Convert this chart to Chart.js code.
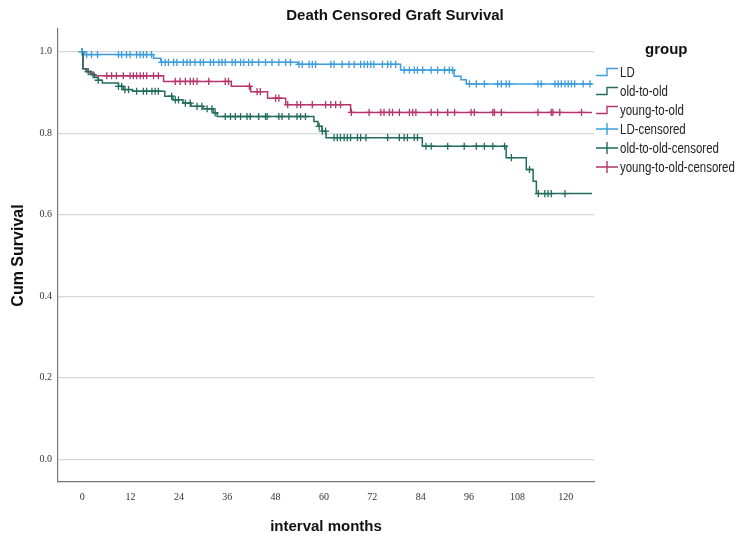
<!DOCTYPE html>
<html>
<head>
<meta charset="utf-8">
<script src="https://cdn.jsdelivr.net/npm/chart.js@4.4.1/dist/chart.umd.min.js"></script>
<style>
  html, body { margin: 0; padding: 0; background: #fff; }
  #wrap { position: relative; width: 744px; height: 541px; }
  #legend {
    position: absolute; left: 595px; top: 38px; width: 149px;
    font-family: "Liberation Sans", Arial, sans-serif;
    font-size: 14px; color: #222;
  }
  #legend .head {
    font-weight: bold; font-size: 15px; height: 25px; line-height: 22px;
    padding-left: 50px; color: #111;
  }
  #legend .row { height: 19px; line-height: 19px; white-space: nowrap; }
  #legend svg { vertical-align: middle; margin-right: 1px; margin-top: -3px; }
  #legend .txt { display: inline-block; transform: scaleX(0.82); transform-origin: left center; }
</style>
</head>
<body>
<div id="wrap">
  <canvas id="km" width="744" height="541"></canvas>
  <div id="legend"></div>
</div>
<script>
document.addEventListener("DOMContentLoaded", function () {
  const groups = ["LD", "old-to-old", "young-to-old"];
  const colors = ["#3d9ddb", "#216c5e", "#b4346b"];
  const xTicks = [0, 12, 24, 36, 48, 60, 72, 84, 96, 108, 120];
  const yTicks = [0, 0.2, 0.4, 0.6, 0.8, 1.0];

  // step curves: time of each event and the survival after it
  const ldTime = [0, 0.5, 17.7, 19.5, 53.5, 79, 92.3, 94, 95.3, 126.5];
  const ldSurv = [1.0, 0.993, 0.984, 0.974, 0.969, 0.955, 0.94, 0.931, 0.921, 0.921];
  const youngTime = [0, 0.2, 1.2, 2.2, 3, 20.2, 37, 41.8, 46, 50.5, 66.6, 126.5];
  const youngSurv = [1.0, 0.958, 0.952, 0.947, 0.941, 0.927, 0.915, 0.902, 0.886, 0.87, 0.851, 0.851];
  const oldTime = [0, 0.2, 1, 2, 3, 4, 5, 9, 10.2, 12.5, 20.5, 22.5, 25, 27, 30, 32.5, 33.5,
    57.5, 58.5, 59.5, 60.5, 84.4, 105.2, 110.2, 111.9, 112.7, 126.5];
  const oldSurv = [1.0, 0.958, 0.951, 0.944, 0.937, 0.93, 0.923, 0.915, 0.907, 0.903, 0.891, 0.882,
    0.874, 0.866, 0.86, 0.85, 0.841, 0.829, 0.817, 0.805, 0.789, 0.768, 0.74, 0.711, 0.682, 0.652, 0.652];

  // censored times
  const ldCensor = [0, 1.1, 2.3, 3.8, 9, 9.8, 11, 11.9, 13.5, 14.4, 15.2, 16, 17.2, 19.7, 20.6, 21.4,
    22.7, 23.5, 25.1, 26, 26.8, 28, 29.3, 30.1, 31.8, 32.6, 33.9, 34.7, 35.5, 37.2, 38, 39.3, 40.1,
    41.3, 42.2, 43.8, 45.5, 47.1, 48.8, 50.5, 51.7, 53.8, 54.6, 56.3, 57.1, 57.9, 61.7, 62.5, 64.5,
    66.2, 67.5, 69.1, 70, 70.8, 71.6, 72.4, 74.5, 75.8, 76.6, 77.8, 79.9, 81.2, 82.4, 83.2, 84.5,
    86.6, 88.2, 89.9, 91.1, 91.9, 96.1, 97.8, 99.8, 103.1, 104, 105.2, 106, 113.1, 113.9, 117.3,
    118.1, 118.9, 119.8, 120.6, 121.4, 122.2, 124.3, 126];
  const oldCensor = [0, 1.5, 2.7, 4, 9, 9.8, 10.6, 11.5, 13.5, 15.2, 16, 17.3, 18.1, 18.9, 22.2,
    23.1, 23.9, 25.6, 26.8, 28.5, 29.7, 31, 32.2, 33, 35.5, 36.8, 38, 39.3, 40.9, 41.7, 43.8, 45.5,
    45.9, 48.8, 49.6, 51.3, 53.3, 54.2, 55.4, 58.8, 59.6, 60.4, 62.5, 63.3, 64.1, 65, 65.8, 66.6,
    68.3, 69.1, 70.4, 75.8, 78.7, 79.9, 80.7, 82.4, 83.2, 85.3, 86.6, 90.7, 94.8, 97.8, 99.8, 101.9,
    104.8, 106.5, 111, 113.2, 114.8, 115.6, 116.4, 119.8];
  const youngCensor = [6.1, 7.3, 8.5, 10.2, 11.9, 12.7, 13.5, 14.4, 15.2, 16, 17.7, 18.9, 23.1, 24.3,
    25.6, 26.8, 27.6, 28.5, 31.4, 35.5, 36.3, 41.5, 43.4, 44.2, 48, 48.8, 51, 53.3, 54.2, 57.1, 60.4,
    61.7, 62.9, 64.1, 66.8, 71.2, 74.1, 74.9, 76.2, 77, 78.7, 81.2, 82, 82.8, 86.6, 88.2, 90.7, 92.4,
    96.5, 97.3, 101.9, 102.3, 104, 113.1, 116.4, 116.8, 118.5, 123.9];

  function curve(times, surv) {
    return times.map((t, i) => ({ x: t, y: surv[i] }));
  }
  function survAt(times, surv, t) {
    let s = surv[0];
    for (let i = 0; i < times.length; i++) if (times[i] <= t) s = surv[i];
    return s;
  }
  function marks(cens, times, surv) {
    return cens.map((t) => ({ x: t, y: survAt(times, surv, t) }));
  }

  const curves = [
    [ldTime, ldSurv, ldCensor],
    [oldTime, oldSurv, oldCensor],
    [youngTime, youngSurv, youngCensor],
  ];

  const lineSets = curves.map((c, i) => ({
    type: "line",
    label: groups[i],
    data: curve(c[0], c[1]),
    borderColor: colors[i],
    borderWidth: 1.5,
    stepped: true,
    pointRadius: 0,
    fill: false,
  }));
  const censorSets = curves.map((c, i) => ({
    type: "scatter",
    label: groups[i] + "-censored",
    data: marks(c[2], c[0], c[1]),
    borderColor: colors[i],
    backgroundColor: colors[i],
    pointStyle: "cross",
    pointRadius: 3.6,
    borderWidth: 1.3,
  }));

  // centre the title over plot + legend, as the original does
  const titleShift = {
    id: "titleShift",
    afterLayout(chart) {
      if (chart.titleBlock) {
        chart.titleBlock.left = 46;
        chart.titleBlock.right = 744;
      }
    },
  };

  const chart = new Chart(document.getElementById("km"), {
    data: { datasets: lineSets.concat(censorSets) },
    plugins: [titleShift],
    options: {
      responsive: false,
      animation: false,
      layout: { padding: { right: 150 } },
      plugins: {
        legend: { display: false },
        tooltip: { enabled: false },
        title: {
          display: true,
          text: "Death Censored Graft Survival",
          color: "#111",
          font: { family: "Liberation Sans", size: 15, weight: "bold" },
          padding: { top: 7, bottom: 4 },
        },
      },
      scales: {
        x: {
          type: "linear",
          min: -6,
          max: 127,
          afterBuildTicks: (s) => { s.ticks = xTicks.map((v) => ({ value: v })); },
          afterFit: (s) => { s.height = 59; },
          grid: { display: false, drawTicks: false },
          border: { display: true, color: "#777", width: 1.2 },
          ticks: {
            padding: 9,
            color: "#333",
            maxRotation: 0,
            font: { family: "Liberation Serif", size: 10 },
          },
          title: {
            display: true,
            text: "interval months",
            color: "#111",
            font: { family: "Liberation Sans", size: 15, weight: "bold" },
            padding: { top: 0, bottom: 5 },
          },
        },
        y: {
          min: -0.0557,
          max: 1.0557,
          afterBuildTicks: (s) => { s.ticks = yTicks.map((v) => ({ value: v })); },
          afterFit: (s) => { s.width = 58; },
          grid: { color: "#d6d6d6", lineWidth: 1.3, drawTicks: false },
          border: { display: true, color: "#777", width: 1.2 },
          ticks: {
            padding: 6,
            color: "#333",
            font: { family: "Liberation Serif", size: 10 },
            callback: (v) => v.toFixed(1),
          },
          title: {
            display: true,
            text: "Cum Survival",
            color: "#111",
            font: { family: "Liberation Sans", size: 16, weight: "bold" },
            padding: { top: 9, bottom: 0 },
          },
        },
      },
    },
  });

  // legend built from the datasets
  const legend = document.getElementById("legend");
  legend.innerHTML = '<div class="head">group</div>';
  chart.data.datasets.forEach((ds) => {
    const c = ds.borderColor;
    const icon = ds.type === "line"
      ? `<path d="M1 10.5 H12 V3.5 H23" fill="none" stroke="${c}" stroke-width="1.4"/>`
      : `<path d="M1 7 H23 M12 1 V13" fill="none" stroke="${c}" stroke-width="1.4"/>`;
    const row = document.createElement("div");
    row.className = "row";
    row.innerHTML = `<svg width="24" height="14" viewBox="0 0 24 14">${icon}</svg><span class="txt">${ds.label}</span>`;
    legend.appendChild(row);
  });
});
</script>
</body>
</html>
